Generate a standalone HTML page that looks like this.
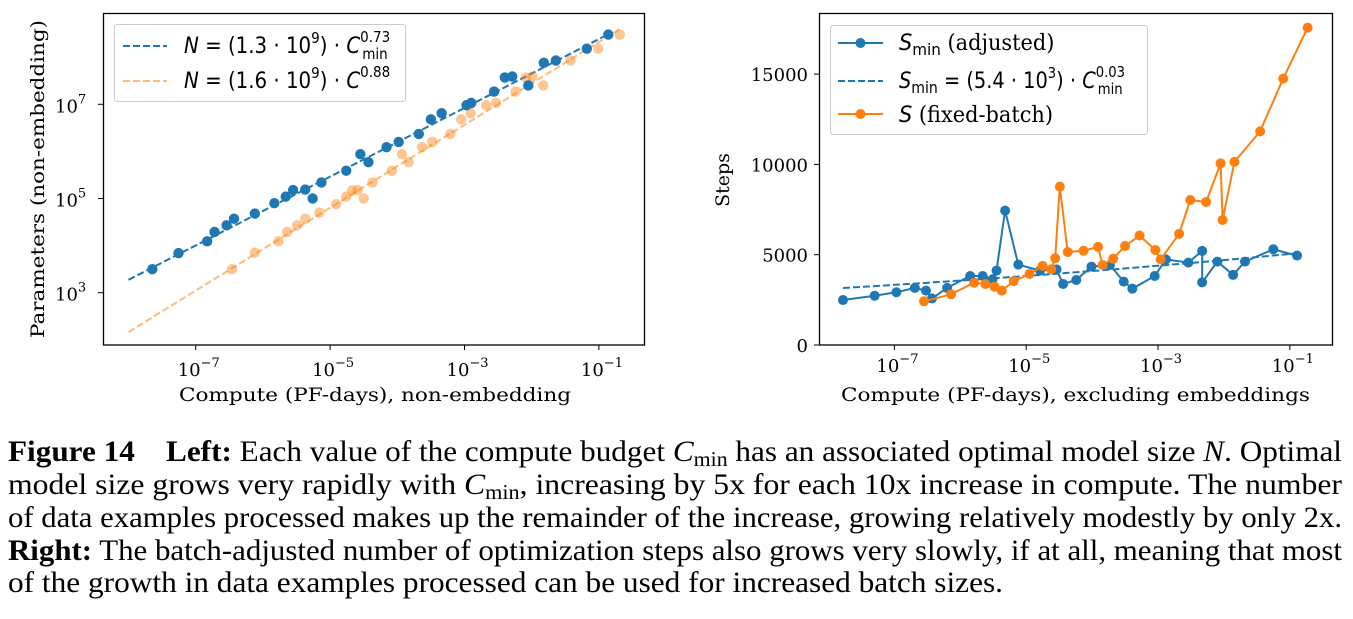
<!DOCTYPE html>
<html><head><meta charset="utf-8"><style>
html,body{margin:0;padding:0;background:#fff;}
svg{display:block;}
.tk{font-family:"DejaVu Serif",serif;font-size:18px;fill:#000;}
.lab{font-family:"DejaVu Serif",serif;font-size:19px;fill:#000;}
.lg{font-family:"DejaVu Sans",sans-serif;font-size:22px;fill:#000;}
.cap{font-family:"Liberation Serif",serif;font-size:30px;fill:#000;}
</style></head><body>
<svg id="fig" width="1353" height="619" viewBox="0 0 1353 619" xmlns="http://www.w3.org/2000/svg">
<rect width="1353" height="619" fill="#fff"/>
<g id="left">
 <g id="lmarks"></g>
 <rect x="103.5" y="13.5" width="541" height="331.5" fill="none" stroke="#000" stroke-width="1.3"/>
 <g id="laxes"></g>
 <text class="lab" x="179" y="401" textLength="392" lengthAdjust="spacingAndGlyphs">Compute (PF-days), non-embedding</text>
 <text class="lab" transform="translate(44,179) rotate(-90)" text-anchor="middle" textLength="318" lengthAdjust="spacingAndGlyphs">Parameters (non-embedding)</text>
 <g>
  <rect x="114.5" y="24.5" width="291" height="77" rx="3" fill="#fff" fill-opacity="0.8" stroke="#ccc" stroke-width="1"/>
  <line x1="123" y1="46" x2="167" y2="46" stroke="#1f77b4" stroke-width="2" stroke-dasharray="7,3"/>
  <text class="lg" transform="translate(184,53) scale(0.9,1)" x="0" y="0"><tspan font-style="italic">N</tspan> = (1.3 · 10<tspan dy="-10" font-size="15">9</tspan><tspan dy="10">) · </tspan><tspan font-style="italic">C</tspan><tspan dy="-11" font-size="15">0.73</tspan><tspan dx="-31" dy="17" font-size="15">min</tspan></text>
  <line x1="123" y1="81" x2="167" y2="81" stroke="#ffbb78" stroke-width="2" stroke-dasharray="7,3"/>
  <text class="lg" transform="translate(184,88) scale(0.9,1)" x="0" y="0"><tspan font-style="italic">N</tspan> = (1.6 · 10<tspan dy="-10" font-size="15">9</tspan><tspan dy="10">) · </tspan><tspan font-style="italic">C</tspan><tspan dy="-11" font-size="15">0.88</tspan></text>
 </g>
</g>
<g id="right">
 <g id="rmarks"></g>
 <rect x="819.5" y="13.5" width="513" height="331.5" fill="none" stroke="#000" stroke-width="1.3"/>
 <g id="raxes"></g>
 <text class="lab" x="841" y="401" textLength="469" lengthAdjust="spacingAndGlyphs">Compute (PF-days), excluding embeddings</text>
 <text class="lab" transform="translate(729,180) rotate(-90)" text-anchor="middle">Steps</text>
 <g>
  <rect x="830.5" y="25.5" width="317" height="109" rx="3" fill="#fff" fill-opacity="0.8" stroke="#ccc" stroke-width="1"/>
  <line x1="838" y1="43" x2="883" y2="43" stroke="#1f77b4" stroke-width="2"/>
  <circle cx="860.5" cy="43" r="5" fill="#1f77b4"/>
  <text class="lg" transform="translate(899,50) scale(0.95,1)" x="0" y="0"><tspan font-style="italic">S</tspan><tspan dy="5" font-size="16">min</tspan><tspan dy="-5" font-family="DejaVu Serif, serif"> (adjusted)</tspan></text>
  <line x1="838" y1="81" x2="883" y2="81" stroke="#1f77b4" stroke-width="2" stroke-dasharray="7,3"/>
  <text class="lg" transform="translate(899,88) scale(0.88,1)" x="0" y="0"><tspan font-style="italic">S</tspan><tspan dy="5" font-size="16">min</tspan><tspan dy="-5"> = (5.4 · 10</tspan><tspan dy="-10" font-size="15">3</tspan><tspan dy="10">) · </tspan><tspan font-style="italic">C</tspan><tspan dy="-11" font-size="15">0.03</tspan><tspan dx="-31" dy="17" font-size="15">min</tspan></text>
  <line x1="838" y1="114" x2="883" y2="114" stroke="#ff7f0e" stroke-width="2"/>
  <circle cx="860.5" cy="114" r="5" fill="#ff7f0e"/>
  <text class="lg" transform="translate(899,122) scale(0.95,1)" x="0" y="0"><tspan font-style="italic">S</tspan><tspan font-family="DejaVu Serif, serif"> (fixed-batch)</tspan></text>
 </g>
</g>
<g>
 <text class="cap" x="8" y="461" textLength="1334" lengthAdjust="spacingAndGlyphs"><tspan font-weight="bold">Figure 14</tspan><tspan dx="30" font-weight="bold">Left:</tspan> Each value of the compute budget <tspan font-style="italic">C</tspan><tspan dy="5" font-size="21">min</tspan><tspan dy="-5"> has an associated optimal model size </tspan><tspan font-style="italic">N</tspan>. Optimal</text>
 <text class="cap" x="8" y="494" textLength="1334" lengthAdjust="spacingAndGlyphs">model size grows very rapidly with <tspan font-style="italic">C</tspan><tspan dy="5" font-size="21">min</tspan><tspan dy="-5">, increasing by 5x for each 10x increase in compute.  The number</tspan></text>
 <text class="cap" x="8" y="527" textLength="1334" lengthAdjust="spacingAndGlyphs">of data examples processed makes up the remainder of the increase, growing relatively modestly by only 2x.</text>
 <text class="cap" x="8" y="560" textLength="1334" lengthAdjust="spacingAndGlyphs"><tspan font-weight="bold">Right:</tspan> The batch-adjusted number of optimization steps also grows very slowly, if at all, meaning that most</text>
 <text class="cap" x="8" y="592" textLength="995" lengthAdjust="spacingAndGlyphs">of the growth in data examples processed can be used for increased batch sizes.</text>
</g>
</svg>
<script>
// Left chart data (log10 values)
const leftCminLogC = [-7.645,-7.256,-6.83,-6.72,-6.54,-6.43,-6.12,-5.83,-5.66,-5.55,-5.37,-5.26,-5.13,-4.76,-4.55,-4.43,-4.16,-3.98,-3.68,-3.50,-3.34,-2.97,-2.90,-2.56,-2.40,-2.29,-2.05,-1.82,-1.64,-1.18,-0.86];
const leftCminLogN = [3.50,3.84,4.09,4.29,4.43,4.57,4.68,4.90,5.04,5.18,5.19,5.00,5.34,5.59,5.94,5.77,6.09,6.20,6.37,6.68,6.81,6.98,7.03,7.27,7.57,7.59,7.40,7.88,7.93,8.18,8.48];
const leftCLogC = [-6.46,-6.12,-5.77,-5.64,-5.49,-5.37,-5.16,-4.91,-4.76,-4.67,-4.59,-4.50,-4.37,-4.08,-3.93,-3.83,-3.63,-3.48,-3.21,-3.05,-2.91,-2.68,-2.53,-2.24,-2.09,-1.99,-1.83,-1.42,-1.01,-0.69];
const leftCLogN = [3.50,3.85,4.09,4.29,4.43,4.57,4.70,4.88,5.04,5.17,5.18,5.00,5.34,5.59,5.94,5.77,6.09,6.20,6.37,6.68,6.81,6.98,7.03,7.27,7.57,7.59,7.40,7.93,8.18,8.48];
const leftFitCmin = {coef:1.3e9, exp:0.73, fromLog:-8, toLog:-0.86};
const leftFitC = {coef:1.6e9, exp:0.88, fromLog:-8, toLog:-0.69};
const leftXTicks = [-7,-5,-3,-1];
const leftYTicks = [3,5,7];
// Right chart data
const rightSminLogC = [-7.78,-7.30,-6.97,-6.69,-6.52,-6.43,-6.20,-5.85,-5.66,-5.51,-5.45,-5.32,-5.12,-4.79,-4.54,-4.44,-4.24,-4.01,-3.73,-3.52,-3.39,-3.05,-2.88,-2.54,-2.33,-2.33,-2.10,-1.86,-1.68,-1.25,-0.89];
const rightSminSteps = [2490,2730,2920,3160,3010,2580,3160,3820,3820,3640,4120,7440,4450,4120,4190,3380,3600,4340,4430,3510,3120,3820,4740,4560,5210,3470,4620,3880,4620,5300,4950];
const rightSLogC = [-6.55,-6.14,-5.79,-5.62,-5.48,-5.37,-5.19,-4.95,-4.75,-4.62,-4.56,-4.49,-4.37,-4.13,-3.91,-3.84,-3.68,-3.50,-3.28,-3.04,-2.96,-2.68,-2.51,-2.27,-2.05,-2.02,-1.84,-1.45,-1.10,-0.73];
const rightSSteps = [2420,2810,3450,3380,3230,3010,3540,3930,4380,4190,4800,8770,5150,5220,5430,4430,4780,5480,6060,5260,4740,6150,8030,7920,10060,6920,10140,11830,14750,17570];
const rightFit = {coef:5.4e3, exp:0.03, fromLog:-7.78, toLog:-0.89};
const rightXTicks = [-7,-5,-3,-1];
const rightYTicks = [0,5000,10000,15000];

const NS='http://www.w3.org/2000/svg';
function mk(tag, parent, attrs){const e=document.createElementNS(NS,tag);for(const k in attrs)e.setAttribute(k,attrs[k]);parent.appendChild(e);return e;}
const xL=lc=>195.7+(lc+7)*67.2;
const yL=ln=>292.7-(ln-3)*47.1;
const xR=lc=>894.4+(lc+7)*65.9;
const yR=s=>345-s*(90.3/5000);

const lm=document.getElementById('lmarks'), la=document.getElementById('laxes');
const rm=document.getElementById('rmarks'), ra=document.getElementById('raxes');

function fitLine(parent,fit,xf,yf,logY,color,name){
  const pts=[];
  for(let i=0;i<=40;i++){const lc=fit.fromLog+(fit.toLog-fit.fromLog)*i/40;const v=Math.log10(fit.coef)+fit.exp*lc;pts.push(xf(lc).toFixed(1)+','+(logY?yf(v):yf(Math.pow(10,v))).toFixed(1));}
  const p=mk('polyline',parent,{points:pts.join(' '),fill:'none',stroke:color,'stroke-width':2,'stroke-dasharray':'7,3'});
  
  
}
// Left
fitLine(lm,leftFitC,xL,yL,true,'#ffbb78','fit-line-c');
fitLine(lm,leftFitCmin,xL,yL,true,'#1f77b4','fit-line-cmin');
leftCLogC.forEach((lc,i)=>{const c=mk('circle',lm,{cx:xL(lc),cy:yL(leftCLogN[i]),r:5.2,fill:'#ff7f0e','fill-opacity':0.45});
  
  });
leftCminLogC.forEach((lc,i)=>{const c=mk('circle',lm,{cx:xL(lc),cy:yL(leftCminLogN[i]),r:5.2,fill:'#1f77b4'});
  
  });
leftXTicks.forEach(t=>{const x=xL(t);mk('line',la,{x1:x,y1:345,x2:x,y2:350,stroke:'#000','stroke-width':1});
  const tx=mk('text',la,{class:'tk',x:x-18,y:376});
  
  
  tx.innerHTML='10<tspan dy="-9" font-size="13">−'+(-t)+'</tspan>';});
leftYTicks.forEach(t=>{const y=yL(t);mk('line',la,{x1:98,y1:y,x2:103.5,y2:y,stroke:'#000','stroke-width':1});
  const tx=mk('text',la,{class:'tk',x:55,y:y+8});
  
  
  tx.innerHTML='10<tspan dy="-9" font-size="13">'+t+'</tspan>';});
// Right
function series(parent,xs,ys,color,name){
  const pts=xs.map((lc,i)=>xR(lc).toFixed(1)+','+yR(ys[i]).toFixed(1)).join(' ');
  const p=mk('polyline',parent,{points:pts,fill:'none',stroke:color,'stroke-width':2});
  
  
  xs.forEach((lc,i)=>{const c=mk('circle',parent,{cx:xR(lc),cy:yR(ys[i]),r:5,fill:color});
    
    });
}
series(rm,rightSminLogC,rightSminSteps,'#1f77b4','smin');
fitLine(rm,rightFit,xR,yR,false,'#1f77b4','fit-line-smin');
series(rm,rightSLogC,rightSSteps,'#ff7f0e','s-fixed-batch');
rightXTicks.forEach(t=>{const x=xR(t);mk('line',ra,{x1:x,y1:345,x2:x,y2:350,stroke:'#000','stroke-width':1});
  const tx=mk('text',ra,{class:'tk',x:x-18,y:372});
  
  
  tx.innerHTML='10<tspan dy="-9" font-size="13">−'+(-t)+'</tspan>';});
rightYTicks.forEach(t=>{const y=yR(t);mk('line',ra,{x1:814,y1:y,x2:819.5,y2:y,stroke:'#000','stroke-width':1});
  const tx=mk('text',ra,{class:'tk',x:808,y:y+7,'text-anchor':'end'});
  
  
  tx.textContent=String(t);});
</script>
</body></html>
